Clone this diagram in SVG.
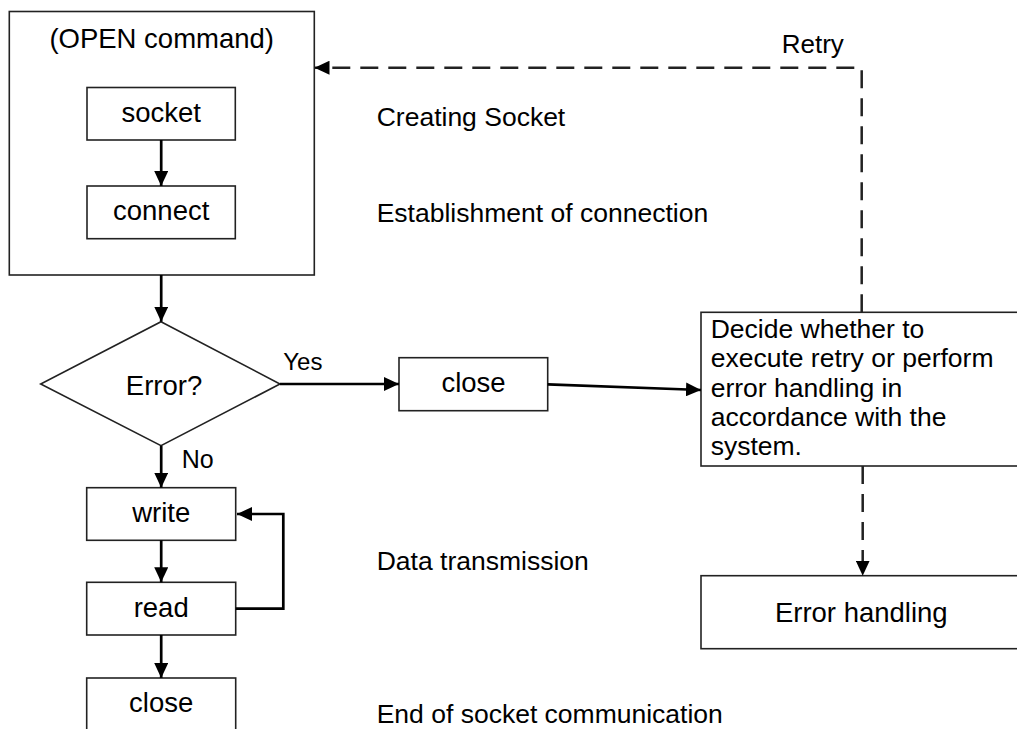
<svg xmlns="http://www.w3.org/2000/svg" width="1017" height="729" viewBox="0 0 1017 729">
<style>
  .box{fill:#fff;stroke:#222;stroke-width:1.6}
  .t{font-family:"Liberation Sans",Arial,sans-serif;fill:#000}
  .n{font-size:27.5px;text-anchor:middle}
  .lab{font-size:26.5px}
  .c{fill:none;stroke:#000;stroke-width:2.7}
  .d{fill:none;stroke:#222;stroke-width:2.5;stroke-dasharray:18 10}
</style>
<defs>
  <marker id="ah" markerUnits="userSpaceOnUse" markerWidth="16" markerHeight="14" refX="15" refY="7" orient="auto">
    <path d="M0,0 L15,7 L0,14 Z" fill="#000"/>
  </marker>
</defs>
<rect width="1017" height="729" fill="#fff"/>
<g id="open">
  <rect class="box" x="9.3" y="11.5" width="305" height="263.5"/>
  <text class="t n" x="161.7" y="48" font-size="28">(OPEN command)</text>
</g>
<g id="socket">
  <rect class="box" x="87" y="87.5" width="148.3" height="52.5"/>
  <text class="t n" x="161.2" y="122">socket</text>
</g>
<g id="connect">
  <rect class="box" x="87" y="186" width="148.3" height="52.7"/>
  <text class="t n" x="161.2" y="220">connect</text>
</g>
<g id="error">
  <path class="box" d="M161,321.7 L280,384 L161,445.7 L40.7,384 Z"/>
  <text class="t n" x="164" y="395">Error?</text>
</g>
<g id="close1">
  <rect class="box" x="399" y="357.7" width="148.7" height="53"/>
  <text class="t n" x="473.5" y="391.7">close</text>
</g>
<g id="decide">
  <rect class="box" x="701" y="312.3" width="330" height="153.7"/>
  <text class="t lab" x="710.7" y="337.7">Decide whether to</text>
  <text class="t lab" x="710.7" y="367.2">execute retry or perform</text>
  <text class="t lab" x="710.7" y="396.7">error handling in</text>
  <text class="t lab" x="710.7" y="426">accordance with the</text>
  <text class="t lab" x="710.7" y="455">system.</text>
</g>
<g id="errhandling">
  <rect class="box" x="701" y="575.7" width="330" height="73"/>
  <text class="t n" x="861.3" y="622.3" font-size="28">Error handling</text>
</g>
<g id="write">
  <rect class="box" x="86.7" y="487.7" width="149" height="52.6"/>
  <text class="t n" x="161.2" y="521.7">write</text>
</g>
<g id="read">
  <rect class="box" x="86.7" y="582.3" width="149" height="52.7"/>
  <text class="t n" x="161.2" y="616.7">read</text>
</g>
<g id="close2">
  <rect class="box" x="86.7" y="678" width="149" height="60"/>
  <text class="t n" x="161.2" y="711.7">close</text>
</g>
<g id="labels">
  <text class="t lab" x="376.7" y="126">Creating Socket</text>
  <text class="t lab" x="376.7" y="221.7">Establishment of connection</text>
  <text class="t lab" x="376.7" y="570">Data transmission</text>
  <text class="t lab" x="376.7" y="723.3">End of socket communication</text>
  <text class="t" x="781.7" y="53.3" font-size="26">Retry</text>
  <text class="t" x="283.3" y="370" font-size="24">Yes</text>
  <text class="t" x="181.7" y="468.3" font-size="25">No</text>
</g>
<g id="connectors">
  <line class="c" x1="161.2" y1="140" x2="161.2" y2="186" marker-end="url(#ah)"/>
  <line class="c" x1="161.2" y1="275" x2="161.2" y2="321.7" marker-end="url(#ah)"/>
  <line class="c" x1="280" y1="384" x2="399" y2="384" marker-end="url(#ah)"/>
  <line class="c" x1="547.7" y1="384.3" x2="701" y2="390" marker-end="url(#ah)"/>
  <line class="c" x1="161.2" y1="445.7" x2="161.2" y2="487.7" marker-end="url(#ah)"/>
  <line class="c" x1="161.2" y1="540.3" x2="161.2" y2="582.3" marker-end="url(#ah)"/>
  <line class="c" x1="161.2" y1="635" x2="161.2" y2="678" marker-end="url(#ah)"/>
  <path class="c" d="M235.7,608.7 H283.3 V514 H237" marker-end="url(#ah)"/>
  <path class="d" d="M861.7,312.3 V67.7 H314.5" marker-end="url(#ah)"/>
  <path class="d" d="M862.7,466 V575.7" marker-end="url(#ah)"/>
</g>
</svg>
